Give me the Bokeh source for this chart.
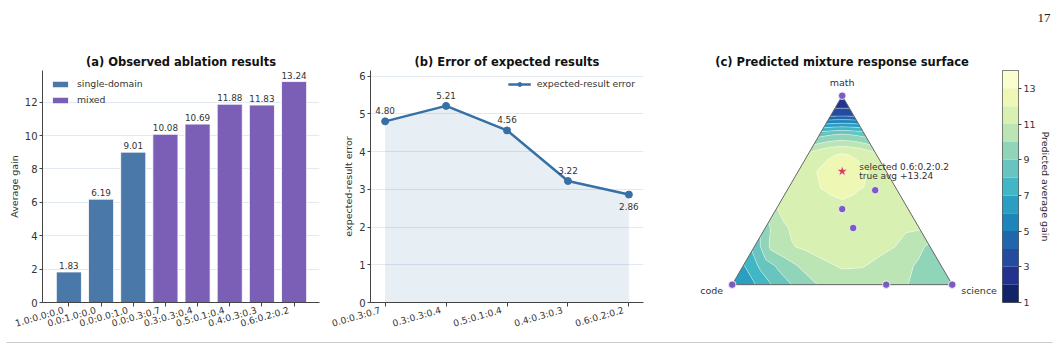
import math
import numpy as np
from bokeh.plotting import figure
from bokeh.layouts import row, column
from bokeh.models import ColumnDataSource, FixedTicker, Label, Range1d, LinearAxis
from bokeh.core.properties import value
from bokeh.embed import file_html
from bokeh.resources import INLINE

# ---------------- data ----------------
ablation_mix = ["1.0:0.0:0.0", "0.0:1.0:0.0", "0.0:0.0:1.0", "0.0:0.3:0.7",
                "0.3:0.3:0.4", "0.5:0.1:0.4", "0.4:0.3:0.3", "0.6:0.2:0.2"]
ablation_gain = [1.83, 6.19, 9.01, 10.08, 10.69, 11.88, 11.83, 13.24]
ablation_group = ["single-domain", "single-domain", "single-domain",
                  "mixed", "mixed", "mixed", "mixed", "mixed"]
gain_yticks = [0, 2, 4, 6, 8, 10, 12]

error_mix = ["0.0:0.3:0.7", "0.3:0.3:0.4", "0.5:0.1:0.4", "0.4:0.3:0.3", "0.6:0.2:0.2"]
expected_error = [4.80, 5.21, 4.56, 3.22, 2.86]
error_yticks = [0, 1, 2, 3, 4, 5, 6]

selected_mix = "0.6:0.2:0.2"
selected_true_avg = 13.24
vertex_names = ["math", "code", "science"]   # ratio order math:code:science

# predicted surface:
# rows = math share, columns = science share of the non-math part
surface_math = [0.0, 0.1, 0.2, 0.3, 0.4, 0.5, 0.6, 0.7, 0.8, 0.9, 1.0]
surface_sci_share = [0.0, 0.1, 0.2, 0.3, 0.4, 0.5, 0.6, 0.7, 0.8, 0.9, 1.0]
surface_gain = [
    [6.19, 6.9, 8.3, 9.3, 10.1, 10.5, 10.6, 10.4, 10.0, 9.5, 9.01],
    [6.9, 8.4, 9.4, 10.2, 10.8, 11.1, 11.05, 10.8, 10.3, 9.8, 9.5],
    [8.3, 10.3, 10.9, 11.2, 11.4, 11.5, 11.4, 11.2, 11.0, 10.4, 9.8],
    [9.6, 10.8, 11.2, 11.45, 11.6, 11.7, 11.6, 11.5, 11.35, 11.2, 11.15],
    [10.95, 11.4, 11.6, 11.75, 11.85, 11.9, 11.85, 11.75, 11.6, 11.45, 11.3],
    [11.4, 11.65, 11.85, 11.97, 12.05, 12.1, 12.05, 11.95, 11.8, 11.6, 11.4],
    [11.5, 11.8, 11.97, 12.3, 12.6, 12.7, 12.6, 12.3, 11.97, 11.7, 11.4],
    [11.0, 11.3, 11.6, 11.8, 11.9, 11.95, 11.9, 11.8, 11.6, 11.3, 11.0],
    [8.5, 8.6, 8.7, 8.8, 8.85, 8.9, 8.85, 8.8, 8.7, 8.6, 8.5],
    [3.6, 3.6, 3.6, 3.6, 3.6, 3.6, 3.6, 3.6, 3.6, 3.6, 3.6],
    [1.83, 1.83, 1.83, 1.83, 1.83, 1.83, 1.83, 1.83, 1.83, 1.83, 1.83],
]
surface_levels = [1, 2, 3, 4, 5, 6, 7, 8, 9, 10, 11, 12, 13, 14]
colorbar_ticks = [1, 3, 5, 7, 9, 11, 13]

# ---------------- styles ----------------
FONT = "DejaVu Sans"
BLUE = "#4a78a8"
PURPLE = "#7b5eb6"
LINE = "#3670a6"
DOT = "#7a5cc0"
STAR = "#d8414f"
TXT = "#333333"
AX = "#444444"
GRID = "#e3e9f1"
BAND_COLORS = ["#11246a", "#23328f", "#234b9f", "#2166ac", "#1e85ba", "#2b9fc2",
               "#41b6c4", "#67c4be", "#90d4b9", "#bce5b5", "#d9f0b3", "#eef8b4", "#fafdcd"]
ROW_H = 306
LABEL_SHIFT_PX = 5.5   # rotated tick labels end just left of their tick, like the reference


def base_fig(width, title, x_range, y_range, left, right):
    p = figure(width=width, height=ROW_H, output_backend="svg", toolbar_location=None,
               x_range=x_range, y_range=y_range, title=title,
               min_border_left=left, min_border_right=right,
               min_border_top=40, min_border_bottom=32)
    p.title.text_font = FONT
    p.title.text_font_size = "11.5px"
    p.title.text_font_style = "bold"
    p.title.text_color = "#111111"
    p.title.align = "center"
    p.title.standoff = 4
    p.outline_line_color = None
    p.background_fill_color = "white"
    p.border_fill_color = "white"
    return p


def style_axes(p, xticks, xlabels, yticks, ylabel, x0, x1, frame_w):
    # axis next to the frame: spine + tick marks only
    xa0 = p.xaxis[0]
    xa0.ticker = FixedTicker(ticks=xticks)
    xa0.major_label_overrides = {t: "" for t in xticks}
    xa0.major_label_standoff = 0
    # label axis on a slightly shifted copy of the range
    shift = LABEL_SHIFT_PX * (x1 - x0) / frame_w
    p.extra_x_ranges = {"labels": Range1d(x0 + shift, x1 + shift)}
    lab = LinearAxis(x_range_name="labels", ticker=FixedTicker(ticks=xticks),
                     major_label_overrides={t: l for t, l in zip(xticks, xlabels)})
    lab.axis_line_color = None
    lab.major_tick_line_color = None
    lab.minor_tick_line_color = None
    lab.major_tick_out = 0
    lab.major_tick_in = 0
    lab.major_label_standoff = 3
    lab.major_label_orientation = math.radians(16)
    lab.major_label_text_font = FONT
    lab.major_label_text_font_size = "9.2px"
    lab.major_label_text_color = TXT
    p.add_layout(lab, "below")

    p.yaxis.ticker = FixedTicker(ticks=yticks)
    for ax in (xa0, p.yaxis[0]):
        ax.axis_line_color = AX
        ax.axis_line_width = 1
        ax.major_tick_line_color = AX
        ax.minor_tick_line_color = None
        ax.major_tick_out = 4
        ax.major_tick_in = 0
        ax.major_label_text_font = FONT
        ax.major_label_text_color = TXT
    p.yaxis.major_tick_out = 3
    p.yaxis.major_label_standoff = 2
    p.yaxis.major_label_text_font_size = "10px"
    p.yaxis.axis_label = ylabel
    p.yaxis.axis_label_text_font = FONT
    p.yaxis.axis_label_text_font_size = "9.5px"
    p.yaxis.axis_label_text_font_style = "normal"
    p.yaxis.axis_label_text_color = TXT
    p.yaxis.axis_label_standoff = 2
    p.xgrid.visible = False
    p.ygrid.ticker = FixedTicker(ticks=yticks[1:])
    p.ygrid.grid_line_color = GRID
    p.ygrid.grid_line_width = 1


# ---------------- (a) bars ----------------
xa = list(range(len(ablation_mix)))
a0, a1 = -0.82, len(xa) - 1 + 0.79
pA = base_fig(330, "(a) Observed ablation results",
              Range1d(a0, a1), Range1d(0, max(ablation_gain) * 1.05), 42, 11)
style_axes(pA, xa, ablation_mix, gain_yticks, "Average gain", a0, a1, 277)
for grp, col in (("single-domain", BLUE), ("mixed", PURPLE)):
    idx = [i for i, g in enumerate(ablation_group) if g == grp]
    src = ColumnDataSource(dict(x=[xa[i] for i in idx], top=[ablation_gain[i] for i in idx]))
    pA.vbar(x="x", top="top", width=0.78, source=src, fill_color=col,
            line_color="white", line_width=0.8, legend_label=grp)
pA.text(x=xa, y=ablation_gain, text=[f"{v:.2f}" for v in ablation_gain],
        text_align="center", text_baseline="bottom", y_offset=-3,
        text_font=value(FONT), text_font_size="8.8px", text_color=TXT)
pA.legend.location = "top_left"
pA.legend.margin = 3
pA.legend.padding = 5
pA.legend.spacing = 5
pA.legend.glyph_width = 20
pA.legend.glyph_height = 8
pA.legend.label_height = 11
pA.legend.label_standoff = 7
pA.legend.label_text_font = FONT
pA.legend.label_text_font_size = "9.3px"
pA.legend.label_text_color = TXT
pA.legend.border_line_alpha = 0
pA.legend.background_fill_alpha = 0

# ---------------- (b) line ----------------
xb = list(range(len(error_mix)))
b0, b1 = -0.24, len(xb) - 1 + 0.24
pB = base_fig(350, "(b) Error of expected results",
              Range1d(b0, b1), Range1d(0, max(expected_error) * 1.18), 40, 37)
style_axes(pB, xb, error_mix, error_yticks, "expected-result error", b0, b1, 273)
pB.varea(x=xb, y1=[0] * len(xb), y2=expected_error, fill_color=LINE, fill_alpha=0.12)
pB.line(xb, expected_error, line_color=LINE, line_width=2.5, legend_label="expected-result error")
pB.scatter(xb, expected_error, size=7, fill_color=LINE, line_color=LINE,
           legend_label="expected-result error")
last = len(xb) - 1
above = [i for i in xb if i != last]
pB.text(x=[xb[i] for i in above], y=[expected_error[i] for i in above],
        text=[f"{expected_error[i]:.2f}" for i in above],
        text_align="center", text_baseline="bottom", y_offset=-7,
        text_font=value(FONT), text_font_size="8.8px", text_color=TXT)
pB.text(x=[xb[last]], y=[expected_error[last]], text=[f"{expected_error[last]:.2f}"],
        text_align="center", text_baseline="top", y_offset=8,
        text_font=value(FONT), text_font_size="8.8px", text_color=TXT)
pB.legend.location = "top_right"
pB.legend.margin = 3
pB.legend.padding = 5
pB.legend.glyph_width = 23
pB.legend.glyph_height = 10
pB.legend.label_height = 11
pB.legend.label_standoff = 6
pB.legend.label_text_font = FONT
pB.legend.label_text_font_size = "9.3px"
pB.legend.label_text_color = TXT
pB.legend.border_line_alpha = 0
pB.legend.background_fill_alpha = 0

# ---------------- (c) ternary surface ----------------
H = math.sqrt(3) / 2


def tern_xy(m, c, s):
    tot = m + c + s
    m, c, s = m / tot, c / tot, s / tot
    return s + 0.5 * m, H * m


PX0, PY0, PPU = 731.7, 286.0, 220.0   # layout: code vertex pixel & pixels per unit
FL, FR, FT, FB = 686, 997, 70, 304     # frame pixel box
pC = base_fig(317, "(c) Predicted mixture response surface",
              Range1d((FL - PX0) / PPU, (FR - PX0) / PPU),
              Range1d((PY0 - FB) / PPU, (PY0 - FT) / PPU), 6, 0)
pC.xaxis.visible = False
pC.yaxis.visible = False
pC.grid.visible = False

mg = np.array(surface_math)[:, None]
vg = np.array(surface_sci_share)[None, :]
Xg = (1 - mg) * vg + 0.5 * mg
Yg = H * mg * np.ones_like(vg)
Zg = np.array(surface_gain, dtype=float)
pC.contour(x=Xg, y=Yg, z=Zg, levels=surface_levels, fill_color=BAND_COLORS,
           line_color="white", line_alpha=0.55, line_width=0.7)

verts = [tern_xy(1, 0, 0), tern_xy(0, 1, 0), tern_xy(0, 0, 1)]
pC.line([v[0] for v in verts] + [verts[0][0]], [v[1] for v in verts] + [verts[0][1]],
        line_color="#666666", line_width=1)

pts = [tuple(float(t) for t in r.split(":")) for r in ablation_mix]
xy = [tern_xy(*p) for p in pts]
dots = [i for i, r in enumerate(ablation_mix) if r != selected_mix]
pC.scatter([xy[i][0] for i in dots], [xy[i][1] for i in dots], size=7.5,
           fill_color=DOT, line_color="white", line_width=0.8)
sel = tern_xy(*[float(t) for t in selected_mix.split(":")])
pC.scatter([sel[0]], [sel[1]], marker="star", size=11, fill_color=STAR,
           line_color="white", line_width=0.5)
pC.text(x=[sel[0], sel[0]], y=[sel[1], sel[1]],
        text=[f"selected {selected_mix}", f"true avg +{selected_true_avg:.2f}"],
        x_offset=17, y_offset=[-4.7, 4.7], text_align="left", text_baseline="middle",
        text_font=value(FONT), text_font_size="9px", text_color=TXT)
pC.text(x=[verts[0][0]], y=[verts[0][1]], text=[vertex_names[0]], y_offset=-13,
        text_align="center", text_baseline="middle",
        text_font=value(FONT), text_font_size="9.5px", text_color=TXT)
pC.text(x=[verts[1][0]], y=[verts[1][1]], text=[vertex_names[1]], x_offset=-9, y_offset=6,
        text_align="right", text_baseline="middle",
        text_font=value(FONT), text_font_size="9.5px", text_color=TXT)
pC.text(x=[verts[2][0]], y=[verts[2][1]], text=[vertex_names[2]], x_offset=9, y_offset=6,
        text_align="left", text_baseline="middle",
        text_font=value(FONT), text_font_size="9.5px", text_color=TXT)

# ---------------- colorbar ----------------
pCB = figure(width=61, height=ROW_H, output_backend="svg", toolbar_location=None,
             x_range=Range1d(0, 1), y_range=Range1d(surface_levels[0], surface_levels[-1]),
             x_axis_type=None, y_axis_location="right",
             min_border_left=5, min_border_right=40, min_border_top=39, min_border_bottom=32)
pCB.quad(left=0, right=1, bottom=surface_levels[:-1], top=surface_levels[1:],
         fill_color=BAND_COLORS, line_color=None)
pCB.grid.visible = False
pCB.outline_line_color = "#333333"
pCB.outline_line_width = 0.8
ya = pCB.yaxis[0]
ya.ticker = FixedTicker(ticks=colorbar_ticks)
ya.axis_line_color = None
ya.major_tick_line_color = AX
ya.minor_tick_line_color = None
ya.major_tick_out = 3
ya.major_tick_in = 0
ya.major_label_standoff = 2
ya.major_label_text_font = FONT
ya.major_label_text_font_size = "9.5px"
ya.major_label_text_color = TXT
ya.axis_label = "Predicted average gain"
ya.axis_label_text_font = FONT
ya.axis_label_text_font_size = "9.5px"
ya.axis_label_text_font_style = "normal"
ya.axis_label_text_color = TXT
ya.axis_label_standoff = 1

# ---------------- page header / footer ----------------
top = figure(width=1058, height=30, output_backend="svg", toolbar_location=None,
             x_range=Range1d(0, 1058), y_range=Range1d(0, 30),
             x_axis_type=None, y_axis_type=None, min_border=0)
top.outline_line_color = None
top.grid.visible = False
top.add_layout(Label(x=1050, y=13, text="17", text_align="right", text_baseline="alphabetic",
                     text_font="Liberation Serif", text_font_size="13px", text_color="#222222"))

bottom = figure(width=1058, height=13, output_backend="svg", toolbar_location=None,
                x_range=Range1d(0, 1058), y_range=Range1d(0, 13),
                x_axis_type=None, y_axis_type=None, min_border=0)
bottom.outline_line_color = None
bottom.grid.visible = False
bottom.segment(x0=[6], y0=[7], x1=[1052], y1=[7], line_color="#cccccc", line_width=1)

layout = column(top, row(pA, pB, pC, pCB), bottom)
open("out.html", "w").write(file_html(layout, INLINE))
